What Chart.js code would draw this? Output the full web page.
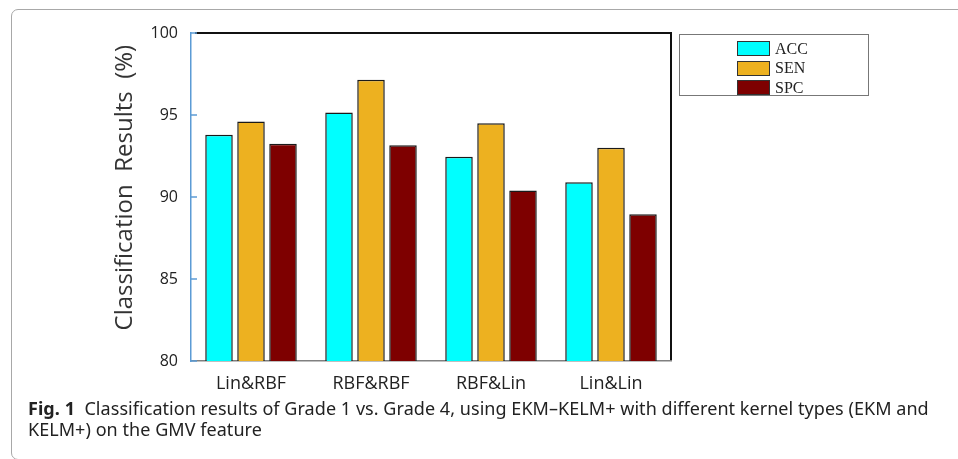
<!DOCTYPE html>
<html>
<head>
<meta charset="utf-8">
<script src="https://cdn.jsdelivr.net/npm/chart.js@4/dist/chart.umd.min.js"></script>
<style>
  html, body { margin: 0; padding: 0; background: #fff; }
  #wrap { position: relative; width: 958px; height: 459px; overflow: hidden; }
  #frame { position: absolute; left: 11px; top: 9px; width: 980px; height: 451px;
           border: 1px solid #a8a8a8; border-radius: 7px; box-sizing: border-box; }
  #cv { position: absolute; left: 0; top: 0; }
  #legend { position: absolute; left: 679px; top: 34px; width: 190px; height: 62px;
            border: 1.5px solid #777; box-sizing: border-box; padding-top: 4px; }
  .item { display: flex; align-items: center; height: 19.5px; margin-left: 57px;
          font-family: "Liberation Serif", serif; font-size: 16px; color: #222; }
  .sw { width: 33px; height: 15px; border: 1px solid #333; box-sizing: border-box; margin-right: 5px; }
  #caption { position: absolute; left: 28px; top: 398px; width: 930px; white-space: nowrap;
             font-family: "Noto Sans", sans-serif; font-size: 18px; line-height: 21px;
             letter-spacing: 0.05px; color: #222; }
</style>
</head>
<body>
<div id="wrap">
  <div id="frame"></div>
  <canvas id="cv" width="958" height="400"></canvas>
  <div id="legend"></div>
  <div id="caption"><b>Fig. 1</b>&nbsp; Classification results of Grade 1 vs. Grade 4, using EKM–KELM+ with different kernel types (EKM and<br>KELM+) on the GMV feature</div>
</div>
<script>
var categories = ['Lin&RBF', 'RBF&RBF', 'RBF&Lin', 'Lin&Lin'];
var seriesNames = ['ACC', 'SEN', 'SPC'];
var acc = [93.8, 95.15, 92.45, 90.9];
var sen = [94.6, 97.15, 94.5, 93.0];
var spc = [93.25, 93.15, 90.4, 88.95];
var colors = ['#00ffff', '#edb120', '#7e0000'];
var yTicks = [80, 85, 90, 95, 100];

// frame lines and inward tick marks drawn from the scales
var framePlugin = {
    id: 'framePlugin',
    afterDraw: function(chart) {
        var c = chart.ctx, a = chart.chartArea, y = chart.scales.y;
        c.save();
        c.strokeStyle = '#111';
        c.lineWidth = 2;
        c.beginPath();
        c.moveTo(a.left + 4, a.top);
        c.lineTo(a.right, a.top);
        c.lineTo(a.right, a.bottom - 1);
        c.stroke();
        c.strokeStyle = '#5b9bd5';
        c.lineWidth = 1.5;
        yTicks.forEach(function(v) {
            var py = y.getPixelForValue(v);
            c.beginPath();
            c.moveTo(a.left, py);
            c.lineTo(a.left + 6, py);
            c.stroke();
        });
        c.restore();
    }
};

var ctx = document.getElementById('cv').getContext('2d');
var config = {
    type: 'bar',
    data: {
        labels: categories,
        datasets: [acc, sen, spc].map(function(d, i) {
            return {
                label: seriesNames[i],
                data: d,
                backgroundColor: colors[i],
                borderColor: '#1a1a1a',
                borderWidth: 1.5,
                barPercentage: 0.86,
                categoryPercentage: 0.8
            };
        })
    },
    options: {
        responsive: false,
        animation: false,
        devicePixelRatio: 1,
        layout: { padding: { left: 0, top: 33, right: 287, bottom: 0 } },
        plugins: { legend: { display: false }, tooltip: { enabled: false } },
        scales: {
            x: {
                grid: { display: false, drawTicks: false },
                border: { display: true, color: '#808080', width: 1.5 },
                ticks: { padding: 12, color: '#222', font: { family: 'Open Sans', size: 18 } },
                afterFit: function(s) { s.height = 39; }
            },
            y: {
                min: 80, max: 100,
                grid: { display: false, drawTicks: false },
                border: { display: true, color: '#5b9bd5', width: 1.5 },
                ticks: { stepSize: 5, padding: 13, color: '#222', font: { family: 'Open Sans', size: 16 } },
                title: {
                    display: true,
                    text: '   Classification  Results  (%)',
                    color: '#333',
                    font: { family: 'Open Sans', size: 24 },
                    padding: { top: 111, bottom: 0 }
                },
                afterFit: function(s) { s.width = 191; }
            }
        }
    },
    plugins: [framePlugin]
};
var chart = new Chart(ctx, config);

var legend = document.getElementById('legend');
chart.data.datasets.forEach(function(ds) {
    var row = document.createElement('div');
    row.className = 'item';
    var sw = document.createElement('span');
    sw.className = 'sw';
    sw.style.background = ds.backgroundColor;
    row.appendChild(sw);
    row.appendChild(document.createTextNode(ds.label));
    legend.appendChild(row);
});
</script>
</body>
</html>
